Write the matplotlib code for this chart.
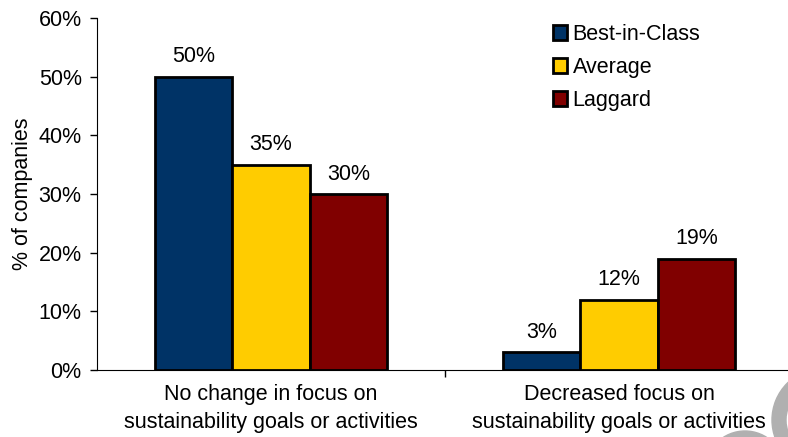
import numpy as np
import matplotlib.pyplot as plt
from matplotlib.patches import Wedge, Circle

plt.rcParams['font.family'] = ['Liberation Sans', 'DejaVu Sans']

categories = ['No change in focus on\nsustainability goals or activities',
              'Decreased focus on\nsustainability goals or activities']
groups = ['Best-in-Class', 'Average', 'Laggard']
best = [50, 3]
average = [35, 12]
laggard = [30, 19]
colors = ['#003366', '#FFCC00', '#800000']
fs = 15.5

fig = plt.figure(figsize=(7.88, 4.37), dpi=100)
ax = fig.add_axes([97 / 788, 1 - 370 / 437, 696 / 788, 352 / 437])

x = np.arange(len(categories))
w = 0.222
for i, (vals, name) in enumerate(zip([best, average, laggard], groups)):
    pos = x + (i - 1) * w
    bars = ax.bar(pos, vals, w, color=colors[i], edgecolor='black',
                  linewidth=2, label=name, zorder=3)
    for b, v in zip(bars, vals):
        ax.text(b.get_x() + b.get_width() / 2, v + 1.6, f'{v}%',
                ha='center', va='bottom', fontsize=fs)

ax.set_xlim(-0.5, 1.5)
ax.set_ylim(0, 60)
ax.set_yticks(range(0, 61, 10))
ax.set_yticklabels([f'{t}%' for t in range(0, 61, 10)], fontsize=fs)
ax.set_ylabel('% of companies', fontsize=fs, labelpad=4)

ax.set_xticks([0.5])
ax.set_xticklabels([''])
ax.tick_params(axis='x', length=5, width=1)
ax.tick_params(axis='y', length=5, width=1, pad=6)
for i, c in enumerate(categories):
    ax.text(x[i], -2.4, c, ha='center', va='top', fontsize=fs,
            linespacing=1.45)

ax.spines['top'].set_visible(False)
ax.spines['right'].set_visible(False)

leg = ax.legend(loc='upper left', bbox_to_anchor=(0.637, 1.019), frameon=False,
                fontsize=fs, handlelength=0.65, handleheight=0.65,
                handletextpad=0.25, labelspacing=0.55, borderaxespad=0.2)

# grey logo fragments in the bottom-right corner
fig.patches.append(Wedge((8.24, 0.17), 0.52, 0, 360, width=0.14,
                         transform=fig.dpi_scale_trans, color='#b0b0b0',
                         zorder=0))
fig.patches.append(Circle((7.45, -0.34), 0.40, transform=fig.dpi_scale_trans,
                          color='#b0b0b0', zorder=0))

fig.savefig('out.png', dpi=100)
